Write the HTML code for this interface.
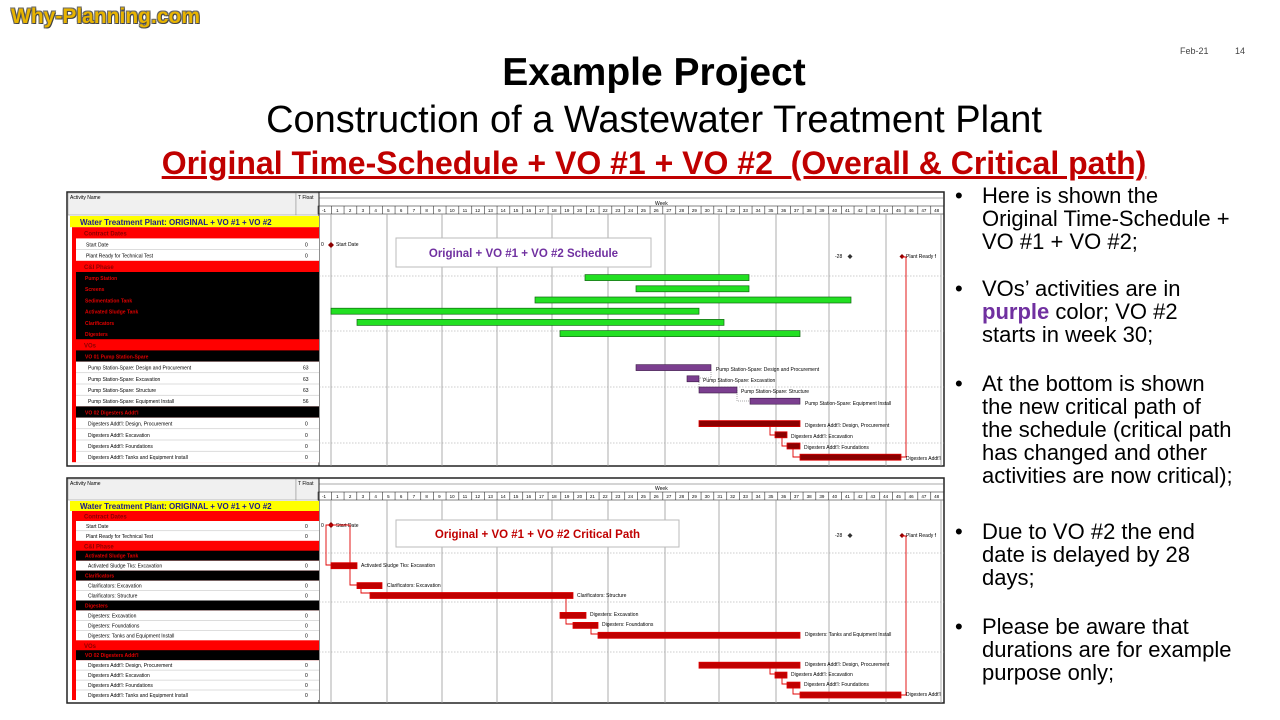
<!DOCTYPE html>
<html><head><meta charset="utf-8"><style>
body{margin:0;width:1280px;height:720px;background:#fff;position:relative;overflow:hidden;font-family:"Liberation Sans",sans-serif}
.a{position:absolute;white-space:nowrap}
.bl{position:absolute;left:955px;font-size:22px;line-height:23px;color:#000}
.bl span{position:absolute;left:0}
.bl div{position:absolute;left:27px;white-space:nowrap}
</style></head><body>
<div class="a" style="left:11px;top:5px;font-size:21px;font-weight:bold;color:#e8b400;text-shadow:1px 1px 0 #444,-1px -1px 0 #666,1px -1px 0 #666,-1px 1px 0 #666">Why-Planning.com</div>
<div class="a" style="left:1180px;top:46px;font-size:9px;color:#444">Feb-21</div>
<div class="a" style="left:1235px;top:46px;font-size:9px;color:#444">14</div>
<div class="a" style="left:0;width:1308px;text-align:center;top:51px;font-size:39px;font-weight:bold">Example Project</div>
<div class="a" style="left:0;width:1308px;text-align:center;top:99px;font-size:38px">Construction of a Wastewater Treatment Plant</div>
<div class="a" style="left:0;width:1308px;text-align:center;top:145px;font-size:32px;font-weight:bold;color:#c00000;text-decoration:underline">Original Time-Schedule + VO #1 + VO #2&nbsp; (Overall &amp; Critical path)</div>

<div class="bl" style="top:184px"><span>•</span><div>Here is shown the<br>Original Time-Schedule +<br>VO #1 + VO #2;</div></div>
<div class="bl" style="top:277px"><span>•</span><div>VOs’ activities are in<br><b style="color:#7030a0">purple</b> color; VO #2<br>starts in week 30;</div></div>
<div class="bl" style="top:372px"><span>•</span><div>At the bottom is shown<br>the new critical path of<br>the schedule (critical path<br>has changed and other<br>activities are now critical);</div></div>
<div class="bl" style="top:520px"><span>•</span><div>Due to VO #2 the end<br>date is delayed by 28<br>days;</div></div>
<div class="bl" style="top:615px"><span>•</span><div>Please be aware that<br>durations are for example<br>purpose only;</div></div>

<svg class="a" style="left:0;top:0" width="1280" height="720" font-family="Liberation Sans, sans-serif">
<defs>
<pattern id="wk" x="331" y="0" width="12.75" height="10" patternUnits="userSpaceOnUse"><rect width="12.75" height="10" fill="#fff"/><line x1="0.3" y1="0" x2="0.3" y2="10" stroke="#333" stroke-width="0.6"/></pattern>
</defs>
<rect x="67" y="192" width="877" height="274" fill="#fff" stroke="#222" stroke-width="1.5"/>
<rect x="68" y="193" width="228" height="22" fill="#f0f0f0" stroke="#888" stroke-width="0.5"/>
<rect x="296" y="193" width="23" height="22" fill="#f0f0f0" stroke="#888" stroke-width="0.5"/>
<text x="70" y="199" font-size="5">Activity Name</text><text x="298" y="199" font-size="5">T Float</text>
<line x1="319" y1="198" x2="944" y2="198" stroke="#555" stroke-width="0.6"/>
<text x="655" y="205" font-size="5">Week</text>
<rect x="318" y="206" width="626" height="8" fill="url(#wk)" stroke="#333" stroke-width="0.6"/>
<line x1="319" y1="192" x2="319" y2="466" stroke="#222" stroke-width="1"/>
<g font-size="4.5" text-anchor="middle"><text y="212"><tspan x="324">-1</tspan><tspan x="337.4">1</tspan><tspan x="350.1">2</tspan><tspan x="362.9">3</tspan><tspan x="375.6">4</tspan><tspan x="388.4">5</tspan><tspan x="401.1">6</tspan><tspan x="413.9">7</tspan><tspan x="426.6">8</tspan><tspan x="439.4">9</tspan><tspan x="452.1">10</tspan><tspan x="464.9">11</tspan><tspan x="477.6">12</tspan><tspan x="490.4">13</tspan><tspan x="503.1">14</tspan><tspan x="515.9">15</tspan><tspan x="528.6">16</tspan><tspan x="541.4">17</tspan><tspan x="554.1">18</tspan><tspan x="566.9">19</tspan><tspan x="579.6">20</tspan><tspan x="592.4">21</tspan><tspan x="605.1">22</tspan><tspan x="617.9">23</tspan><tspan x="630.6">24</tspan><tspan x="643.4">25</tspan><tspan x="656.1">26</tspan><tspan x="668.9">27</tspan><tspan x="681.6">28</tspan><tspan x="694.4">29</tspan><tspan x="707.1">30</tspan><tspan x="719.9">31</tspan><tspan x="732.6">32</tspan><tspan x="745.4">33</tspan><tspan x="758.1">34</tspan><tspan x="770.9">35</tspan><tspan x="783.6">36</tspan><tspan x="796.4">37</tspan><tspan x="809.1">38</tspan><tspan x="821.9">39</tspan><tspan x="834.6">40</tspan><tspan x="847.4">41</tspan><tspan x="860.1">42</tspan><tspan x="872.9">43</tspan><tspan x="885.6">44</tspan><tspan x="898.4">45</tspan><tspan x="911.1">46</tspan><tspan x="923.9">47</tspan><tspan x="936.6">48</tspan></text></g>
<g stroke="#999" stroke-width="0.8"><line x1="331" y1="214" x2="331" y2="466"/><line x1="387" y1="214" x2="387" y2="466"/><line x1="442" y1="214" x2="442" y2="466"/><line x1="497" y1="214" x2="497" y2="466"/><line x1="552" y1="214" x2="552" y2="466"/><line x1="608" y1="214" x2="608" y2="466"/><line x1="665" y1="214" x2="665" y2="466"/><line x1="719" y1="214" x2="719" y2="466"/><line x1="776" y1="214" x2="776" y2="466"/><line x1="829" y1="214" x2="829" y2="466"/><line x1="886" y1="214" x2="886" y2="466"/><line x1="941" y1="214" x2="941" y2="466"/></g>
<g stroke="#999" stroke-width="0.6" stroke-dasharray="1.5,1.5"><line x1="319" y1="276" x2="944" y2="276"/><line x1="319" y1="331" x2="944" y2="331"/><line x1="319" y1="387" x2="944" y2="387"/><line x1="319" y1="443" x2="944" y2="443"/></g>
<rect x="70" y="216" width="249" height="11.2" fill="#ffff00"/>
<text x="80" y="225" font-size="8" font-weight="bold" fill="#1a1a8a">Water Treatment Plant: ORIGINAL + VO #1 + VO #2</text>
<rect x="72" y="227.2" width="247" height="235" fill="#ff0000"/>
<rect x="76" y="238.4" width="243" height="22.4" fill="#fff"/>
<rect x="76" y="272" width="243" height="67.2" fill="#000"/>
<rect x="76" y="350.4" width="243" height="11.2" fill="#000"/>
<rect x="76" y="361.6" width="243" height="44.8" fill="#fff"/>
<rect x="76" y="406.4" width="243" height="11.2" fill="#000"/>
<rect x="76" y="417.6" width="243" height="44.8" fill="#fff"/>
<g stroke="#aaa" stroke-width="0.4"><line x1="76" y1="249.6" x2="319" y2="249.6"/><line x1="76" y1="372.8" x2="319" y2="372.8"/><line x1="76" y1="384" x2="319" y2="384"/><line x1="76" y1="395.2" x2="319" y2="395.2"/><line x1="76" y1="428.8" x2="319" y2="428.8"/><line x1="76" y1="440" x2="319" y2="440"/><line x1="76" y1="451.2" x2="319" y2="451.2"/></g>
<g font-size="6" font-weight="bold" fill="#8b0000"><text x="84" y="235.5">Contract Dates</text><text x="84" y="269">C&amp;I Phase</text><text x="84" y="347.5">VOs</text></g>
<g font-size="5" font-weight="bold" fill="#e00000"><text x="85" y="280">Pump Station</text><text x="85" y="291.2">Screens</text><text x="85" y="302.4">Sedimentation Tank</text><text x="85" y="313.6">Activated Sludge Tank</text><text x="85" y="324.8">Clarificators</text><text x="85" y="336">Digesters</text><text x="85" y="358.4">VO 01 Pump Station-Spare</text><text x="85" y="414.4">VO 02 Digesters Addt'l</text></g>
<g font-size="5"><text x="86" y="246.4">Start Date</text><text x="86" y="257.6">Plant Ready for Technical Test</text><text x="88" y="369.6">Pump Station-Spare: Design and Procurement</text><text x="88" y="380.8">Pump Station-Spare: Excavation</text><text x="88" y="392">Pump Station-Spare: Structure</text><text x="88" y="403.2">Pump Station-Spare: Equipment Install</text><text x="88" y="425.6">Digesters Addt'l: Design, Procurement</text><text x="88" y="436.8">Digesters Addt'l: Excavation</text><text x="88" y="448">Digesters Addt'l: Foundations</text><text x="88" y="459.2">Digesters Addt'l: Tanks and Equipment Install</text>
<text x="305" y="246.4">0</text><text x="305" y="257.6">0</text><text x="303" y="369.6">63</text><text x="303" y="380.8">63</text><text x="303" y="392">63</text><text x="303" y="403.2">56</text><text x="305" y="425.6">0</text><text x="305" y="436.8">0</text><text x="305" y="448">0</text><text x="305" y="459.2">0</text></g>
<rect x="396" y="238" width="255" height="29" fill="#fff" stroke="#bbb"/>
<text x="523.5" y="257" font-size="11.5" font-weight="bold" fill="#7030a0" text-anchor="middle">Original + VO #1 + VO #2 Schedule</text>
<text x="321" y="246" font-size="5">0</text><path d="M331 242 l3 3 -3 3 -3 -3z" fill="#8b0000"/><text x="336" y="246" font-size="5">Start Date</text>
<text x="835" y="258" font-size="5">-28</text><path d="M850 254 l2.5 2.5 -2.5 2.5 -2.5 -2.5z" fill="#333"/>
<path d="M902 254 l2.5 2.5 -2.5 2.5 -2.5 -2.5z" fill="#8b0000"/><text x="906" y="258" font-size="5">Plant Ready f</text>
<g fill="#22e022" stroke="#116611" stroke-width="0.7"><rect x="585" y="274.6" width="164" height="6"/><rect x="636" y="285.8" width="113" height="6"/><rect x="535" y="297" width="316" height="6"/><rect x="331" y="308.2" width="368" height="6"/><rect x="357" y="319.4" width="367" height="6"/><rect x="560" y="330.6" width="240" height="6"/></g>
<g stroke="#555" stroke-width="0.5" stroke-dasharray="1,1" fill="none"><path d="M711 370 V378 H687"/><path d="M699 378 V390"/><path d="M737 390 V401 H750"/></g>
<g fill="#7b3f8f" stroke="#3a1a45" stroke-width="0.6"><rect x="636" y="364.6" width="75" height="6"/><rect x="687" y="375.8" width="12" height="6"/><rect x="699" y="387" width="38" height="6"/><rect x="750" y="398.2" width="50" height="6"/></g>
<g fill="none" stroke="#e00000" stroke-width="0.9"><path d="M770 424 V435 H775"/><path d="M782 437 V446 H787"/><path d="M793 449 V457 H800"/><path d="M901 457 H906 V257 H902"/></g>
<g fill="#8b0000" stroke="#e00000" stroke-width="0.8"><rect x="699" y="420.6" width="101" height="6"/><rect x="775" y="431.8" width="12" height="6"/><rect x="787" y="443" width="13" height="6"/><rect x="800" y="454.2" width="101" height="6"/></g>
<g font-size="5"><text x="716" y="371">Pump Station-Spare: Design and Procurement</text><text x="703" y="382">Pump Station-Spare: Excavation</text><text x="741" y="393">Pump Station-Spare: Structure</text><text x="805" y="405">Pump Station-Spare: Equipment Install</text><text x="805" y="427">Digesters Addt'l: Design, Procurement</text><text x="791" y="438">Digesters Addt'l: Excavation</text><text x="804" y="449">Digesters Addt'l: Foundations</text><text x="906" y="460">Digesters Addt'l</text></g>

<rect x="67" y="478" width="877" height="225" fill="none" stroke="#222" stroke-width="1.5"/>
<rect x="68" y="479" width="228" height="21" fill="#f0f0f0" stroke="#888" stroke-width="0.5"/>
<rect x="296" y="479" width="23" height="21" fill="#f0f0f0" stroke="#888" stroke-width="0.5"/>
<text x="70" y="485" font-size="5">Activity Name</text><text x="298" y="485" font-size="5">T Float</text>
<line x1="319" y1="484" x2="944" y2="484" stroke="#555" stroke-width="0.6"/>
<text x="655" y="490" font-size="5">Week</text>
<rect x="318" y="492" width="626" height="8" fill="url(#wk)" stroke="#333" stroke-width="0.6"/>
<line x1="319" y1="478" x2="319" y2="703" stroke="#222" stroke-width="1"/>
<g font-size="4.5" text-anchor="middle"><text y="498"><tspan x="324">-1</tspan><tspan x="337.4">1</tspan><tspan x="350.1">2</tspan><tspan x="362.9">3</tspan><tspan x="375.6">4</tspan><tspan x="388.4">5</tspan><tspan x="401.1">6</tspan><tspan x="413.9">7</tspan><tspan x="426.6">8</tspan><tspan x="439.4">9</tspan><tspan x="452.1">10</tspan><tspan x="464.9">11</tspan><tspan x="477.6">12</tspan><tspan x="490.4">13</tspan><tspan x="503.1">14</tspan><tspan x="515.9">15</tspan><tspan x="528.6">16</tspan><tspan x="541.4">17</tspan><tspan x="554.1">18</tspan><tspan x="566.9">19</tspan><tspan x="579.6">20</tspan><tspan x="592.4">21</tspan><tspan x="605.1">22</tspan><tspan x="617.9">23</tspan><tspan x="630.6">24</tspan><tspan x="643.4">25</tspan><tspan x="656.1">26</tspan><tspan x="668.9">27</tspan><tspan x="681.6">28</tspan><tspan x="694.4">29</tspan><tspan x="707.1">30</tspan><tspan x="719.9">31</tspan><tspan x="732.6">32</tspan><tspan x="745.4">33</tspan><tspan x="758.1">34</tspan><tspan x="770.9">35</tspan><tspan x="783.6">36</tspan><tspan x="796.4">37</tspan><tspan x="809.1">38</tspan><tspan x="821.9">39</tspan><tspan x="834.6">40</tspan><tspan x="847.4">41</tspan><tspan x="860.1">42</tspan><tspan x="872.9">43</tspan><tspan x="885.6">44</tspan><tspan x="898.4">45</tspan><tspan x="911.1">46</tspan><tspan x="923.9">47</tspan><tspan x="936.6">48</tspan></text></g>
<g stroke="#999" stroke-width="0.8"><line x1="331" y1="500" x2="331" y2="703"/><line x1="387" y1="500" x2="387" y2="703"/><line x1="442" y1="500" x2="442" y2="703"/><line x1="497" y1="500" x2="497" y2="703"/><line x1="552" y1="500" x2="552" y2="703"/><line x1="608" y1="500" x2="608" y2="703"/><line x1="665" y1="500" x2="665" y2="703"/><line x1="719" y1="500" x2="719" y2="703"/><line x1="776" y1="500" x2="776" y2="703"/><line x1="829" y1="500" x2="829" y2="703"/><line x1="886" y1="500" x2="886" y2="703"/><line x1="941" y1="500" x2="941" y2="703"/></g>
<g stroke="#999" stroke-width="0.6" stroke-dasharray="1.5,1.5"><line x1="319" y1="553" x2="944" y2="553"/><line x1="319" y1="602" x2="944" y2="602"/><line x1="319" y1="652" x2="944" y2="652"/></g>
<rect x="70" y="501" width="249" height="10" fill="#ffff00"/>
<text x="80" y="509" font-size="8" font-weight="bold" fill="#1a1a8a">Water Treatment Plant: ORIGINAL + VO #1 + VO #2</text>
<rect x="72" y="511" width="247" height="189" fill="#ff0000"/>
<rect x="76" y="521" width="243" height="19.8" fill="#fff"/>
<rect x="76" y="550.7" width="243" height="10" fill="#000"/>
<rect x="76" y="560.7" width="243" height="9.9" fill="#fff"/>
<rect x="76" y="570.6" width="243" height="10" fill="#000"/>
<rect x="76" y="580.6" width="243" height="19.9" fill="#fff"/>
<rect x="76" y="600.5" width="243" height="9.9" fill="#000"/>
<rect x="76" y="610.4" width="243" height="29.9" fill="#fff"/>
<rect x="76" y="650.2" width="243" height="10" fill="#000"/>
<rect x="76" y="660.2" width="243" height="39.8" fill="#fff"/>
<g stroke="#aaa" stroke-width="0.4"><line x1="76" y1="530.8" x2="319" y2="530.8"/><line x1="76" y1="590.5" x2="319" y2="590.5"/><line x1="76" y1="620.4" x2="319" y2="620.4"/><line x1="76" y1="630.3" x2="319" y2="630.3"/><line x1="76" y1="670.1" x2="319" y2="670.1"/><line x1="76" y1="680.1" x2="319" y2="680.1"/><line x1="76" y1="690" x2="319" y2="690"/></g>
<g font-size="6" font-weight="bold" fill="#8b0000"><text x="84" y="518.5">Contract Dates</text><text x="84" y="548.3">C&amp;I Phase</text><text x="84" y="647.8">VOs</text></g>
<g font-size="5" font-weight="bold" fill="#e00000"><text x="85" y="557.5">Activated Sludge Tank</text><text x="85" y="577.5">Clarificators</text><text x="85" y="607.4">Digesters</text><text x="85" y="657">VO 02 Digesters Addt'l</text></g>
<g font-size="5"><text x="86" y="528">Start Date</text><text x="86" y="537.8">Plant Ready for Technical Test</text><text x="88" y="567.7">Activated Sludge Tks: Excavation</text><text x="88" y="587.6">Clarificators: Excavation</text><text x="88" y="597.5">Clarificators: Structure</text><text x="88" y="617.4">Digesters: Excavation</text><text x="88" y="627.4">Digesters: Foundations</text><text x="88" y="637.3">Digesters: Tanks and Equipment Install</text><text x="88" y="667.2">Digesters Addt'l: Design, Procurement</text><text x="88" y="677.1">Digesters Addt'l: Excavation</text><text x="88" y="687.1">Digesters Addt'l: Foundations</text><text x="88" y="697">Digesters Addt'l: Tanks and Equipment Install</text>
<text x="305" y="528">0</text><text x="305" y="537.8">0</text><text x="305" y="567.7">0</text><text x="305" y="587.6">0</text><text x="305" y="597.5">0</text><text x="305" y="617.4">0</text><text x="305" y="627.4">0</text><text x="305" y="637.3">0</text><text x="305" y="667.2">0</text><text x="305" y="677.1">0</text><text x="305" y="687.1">0</text><text x="305" y="697">0</text></g>
<rect x="396" y="520" width="283" height="27" fill="#fff" stroke="#bbb"/>
<text x="537.5" y="538" font-size="11.5" font-weight="bold" fill="#c00000" text-anchor="middle">Original + VO #1 + VO #2 Critical Path</text>
<text x="321" y="527" font-size="5">0</text><path d="M331 522 l3 3 -3 3 -3 -3z" fill="#8b0000"/><text x="336" y="527" font-size="5">Start Date</text>
<text x="835" y="537" font-size="5">-28</text><path d="M850 533 l2.5 2.5 -2.5 2.5 -2.5 -2.5z" fill="#333"/>
<path d="M902 533 l2.5 2.5 -2.5 2.5 -2.5 -2.5z" fill="#8b0000"/><text x="906" y="537" font-size="5">Plant Ready f</text>
<g fill="none" stroke="#e00000" stroke-width="0.9"><path d="M331 525 H326 V565 H331"/><path d="M331 525 H350 V585 H357"/><path d="M361 588 V593 H370"/><path d="M566 596 V613 H560"/><path d="M566 616 V624 H573"/><path d="M591 626 V634 H598"/><path d="M770 665 V674 H775"/><path d="M782 677 V684 H787"/><path d="M793 687 V694 H800"/><path d="M901 695 H906 V536 H902"/></g>
<g fill="#c00000" stroke="#e00000" stroke-width="0.8"><rect x="331" y="562.7" width="26" height="6"/><rect x="357" y="582.6" width="25" height="6"/><rect x="370" y="592.5" width="203" height="6"/><rect x="560" y="612.4" width="26" height="6"/><rect x="573" y="622.4" width="25" height="6"/><rect x="598" y="632.3" width="202" height="6"/><rect x="699" y="662.2" width="101" height="6"/><rect x="775" y="672.1" width="12" height="6"/><rect x="787" y="682.1" width="13" height="6"/><rect x="800" y="692" width="101" height="6"/></g>
<g font-size="5"><text x="361" y="567">Activated Sludge Tks: Excavation</text><text x="387" y="587">Clarificators: Excavation</text><text x="577" y="597">Clarificators: Structure</text><text x="590" y="616">Digesters: Excavation</text><text x="602" y="626">Digesters: Foundations</text><text x="805" y="636">Digesters: Tanks and Equipment Install</text><text x="805" y="666">Digesters Addt'l: Design, Procurement</text><text x="791" y="676">Digesters Addt'l: Excavation</text><text x="804" y="686">Digesters Addt'l: Foundations</text><text x="906" y="696">Digesters Addt'l</text></g>
</svg>
</body></html>
